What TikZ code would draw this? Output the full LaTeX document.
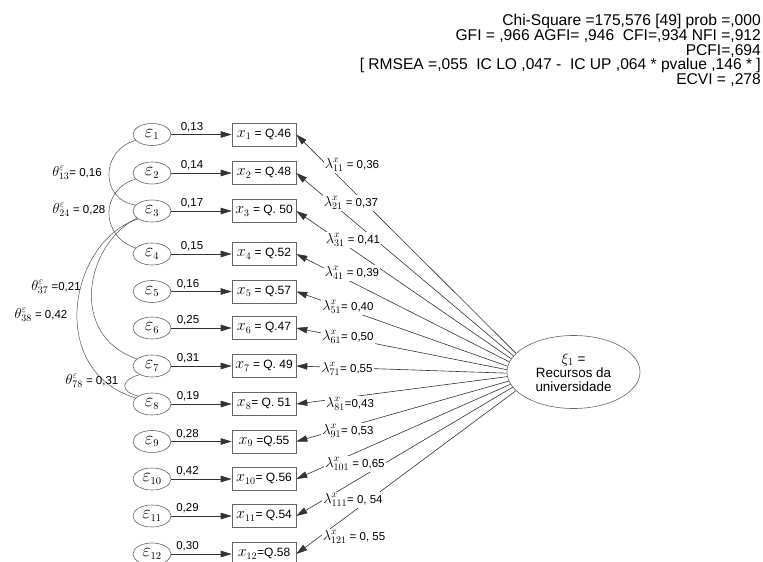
\RequirePackage{fix-cm}
\documentclass[tikz,border=0pt]{standalone}
\usepackage{fontspec}
\setmainfont{Liberation Sans}
\usetikzlibrary{arrows.meta,shapes.geometric}

% larger math symbols next to the sans-serif text
\DeclareMathSizes{13.5}{18.5}{10.5}{8}
\DeclareMathSizes{12}{16}{10}{8}
\DeclareMathSizes{11.5}{14.5}{10}{8}
\DeclareMathSizes{13.4}{15}{10.5}{8}

\definecolor{linegray}{HTML}{333333}
\definecolor{shapegray}{HTML}{666666}
\definecolor{curvegray}{HTML}{505050}

\tikzset{
  errnode/.style={ellipse, draw=shapegray, line width=0.6pt, minimum width=38pt,
    minimum height=22pt, inner sep=0pt, font=\fontsize{13.5}{14}\selectfont},
  indbox/.style={rectangle, draw=shapegray, line width=0.6pt, minimum width=64pt,
    minimum height=23pt, inner sep=0pt, font=\fontsize{12}{14}\selectfont},
  latentnode/.style={ellipse, draw=shapegray, line width=0.6pt, minimum width=133pt,
    minimum height=73pt, inner sep=0pt, align=center, font=\fontsize{13.4}{14}\selectfont},
  arrowline/.style={draw=linegray, line width=0.6pt, -{Triangle[length=11pt,width=6.5pt]}},
  weightlbl/.style={inner sep=0pt, font=\fontsize{11.5}{13}\selectfont},
  lamlbl/.style={fill=white, inner sep=1pt, font=\fontsize{11.5}{13}\selectfont},
  covline/.style={draw=curvegray, line width=0.5pt},
  thetalbl/.style={inner sep=0pt, font=\fontsize{11.5}{13}\selectfont},
}

\begin{document}
\begin{tikzpicture}[x=1pt,y=-1pt]
\useasboundingbox (0,0) rectangle (763,562);

% fit statistics
\node[anchor=north east, inner sep=0pt, align=right,
      font=\fontsize{15.6}{14.8}\selectfont] (fit) at (761,14)
  {Chi-Square =175,576 [49] prob =,000\\
   GFI = ,966 AGFI= ,946\ \ CFI=,934 NFI =,912\\
   PCFI=,694\\
   {[} RMSEA =,055\ \ IC LO ,047 -\ \ IC UP ,064 * pvalue ,146 * ]\\
   ECVI = ,278};

% latent factor
\node[latentnode] (xi) at (573.5,372) {$\xi_1$ =\\Recursos da\\universidade};

% error terms
\node[errnode] (e1)  at (152,134.5) {$\varepsilon_1$};
\node[errnode] (e2)  at (152,173)   {$\varepsilon_2$};
\node[errnode] (e3)  at (152,211)   {$\varepsilon_3$};
\node[errnode] (e4)  at (152,254)   {$\varepsilon_4$};
\node[errnode] (e5)  at (152,291.5) {$\varepsilon_5$};
\node[errnode] (e6)  at (152,328)   {$\varepsilon_6$};
\node[errnode] (e7)  at (152,366)   {$\varepsilon_7$};
\node[errnode] (e8)  at (152,404)   {$\varepsilon_8$};
\node[errnode] (e9)  at (152,441.5) {$\varepsilon_9$};
\node[errnode] (e10) at (152,479)   {$\varepsilon_{10}$};
\node[errnode] (e11) at (152,516)   {$\varepsilon_{11}$};
\node[errnode] (e12) at (152,554)   {$\varepsilon_{12}$};

% indicators
\node[indbox] (x1)  at (264,134.5) {$x_1$ = Q.46};
\node[indbox] (x2)  at (264,173)   {$x_2$ = Q.48};
\node[indbox] (x3)  at (264,211)   {$x_3$ = Q. 50};
\node[indbox] (x4)  at (264,254)   {$x_4$ = Q.52};
\node[indbox] (x5)  at (264,291.5) {$x_5$ = Q.57};
\node[indbox] (x6)  at (264,328)   {$x_6$ = Q.47};
\node[indbox] (x7)  at (264,366)   {$x_7$ = Q. 49};
\node[indbox] (x8)  at (264,404)   {$x_8$= Q. 51};
\node[indbox] (x9)  at (264,441.5) {$x_9$ =Q.55};
\node[indbox] (x10) at (264,479)   {$x_{10}$= Q.56};
\node[indbox] (x11) at (264,516)   {$x_{11}$= Q.54};
\node[indbox] (x12) at (264,554)   {$x_{12}$=Q.58};

% error paths with weights
\foreach \i/\w/\lx in {1/{0,13}/192, 2/{0,14}/192, 3/{0,17}/192, 4/{0,15}/192,
                       5/{0,16}/188, 6/{0,25}/188, 7/{0,31}/188, 8/{0,19}/188,
                       9/{0,28}/187.5, 10/{0,42}/187.5, 11/{0,29}/187.5, 12/{0,30}/187.5}{
  \draw[arrowline] (e\i) -- (x\i);
  \path (e\i.east) -- (x\i.west) coordinate[pos=0.5] (m\i);
  \node[weightlbl] (w\i) at (\lx,0 |- m\i) [yshift=7.5pt] {\w};
}

% factor loadings
\foreach \i/\a in {1/162, 2/165.3, 3/168.5, 4/171.8, 5/175.1, 6/178.4,
                   7/181.6, 8/184.9, 9/188.2, 10/191.5, 11/194.7, 12/198}{
  \draw[arrowline] (xi.\a) -- (x\i.east);
}

\node[lamlbl] (l1)  at (352,165) {$\lambda^x_{11}$ = 0,36};
\node[lamlbl] (l2)  at (351,203) {$\lambda^x_{21}$ = 0,37};
\node[lamlbl] (l3)  at (353,240) {$\lambda^x_{31}$ = 0,41};
\node[lamlbl] (l4)  at (352,273) {$\lambda^x_{41}$ = 0,39};
\node[lamlbl] (l5)  at (348,307) {$\lambda^x_{51}$= 0,40};
\node[lamlbl] (l6)  at (348,337) {$\lambda^x_{61}$= 0,50};
\node[lamlbl] (l7)  at (347,369) {$\lambda^x_{71}$= 0,55};
\node[lamlbl] (l8)  at (350,404) {$\lambda^x_{81}$=0,43};
\node[lamlbl] (l9)  at (348,431) {$\lambda^x_{91}$= 0,53};
\node[lamlbl] (l10) at (355,464) {$\lambda^x_{101}$ = 0,65};
\node[lamlbl] (l11) at (353,500) {$\lambda^x_{111}$= 0, 54};
\node[lamlbl] (l12) at (354,537) {$\lambda^x_{121}$ = 0, 55};

% error covariances
\draw[covline] (e1.200) .. controls (100,150) and (100,200) .. (e3.160);
\draw[covline] (e2.200) .. controls (100,190) and (100,236) .. (e4.160);
\draw[covline] (e3.205) .. controls (85,245) and (68,335) .. (e7.155);
\draw[covline] (e3.210) .. controls (70,240) and (45,370) .. (e8.160);
\draw[covline] (e7.215) .. controls (120,380) and (120,392) .. (e8.150);

\node[thetalbl] (t13) at (77,173) {$\theta^\varepsilon_{13}$= 0,16};
\node[thetalbl] (t24) at (79,210) {$\theta^\varepsilon_{24}$ = 0,28};
\node[thetalbl] (t37) at (56,287) {$\theta^\varepsilon_{37}$ =0,21};
\node[thetalbl] (t38) at (41,315) {$\theta^\varepsilon_{38}$ = 0,42};
\node[thetalbl] (t78) at (92,381) {$\theta^\varepsilon_{78}$ = 0,31};
\end{tikzpicture}
\end{document}
